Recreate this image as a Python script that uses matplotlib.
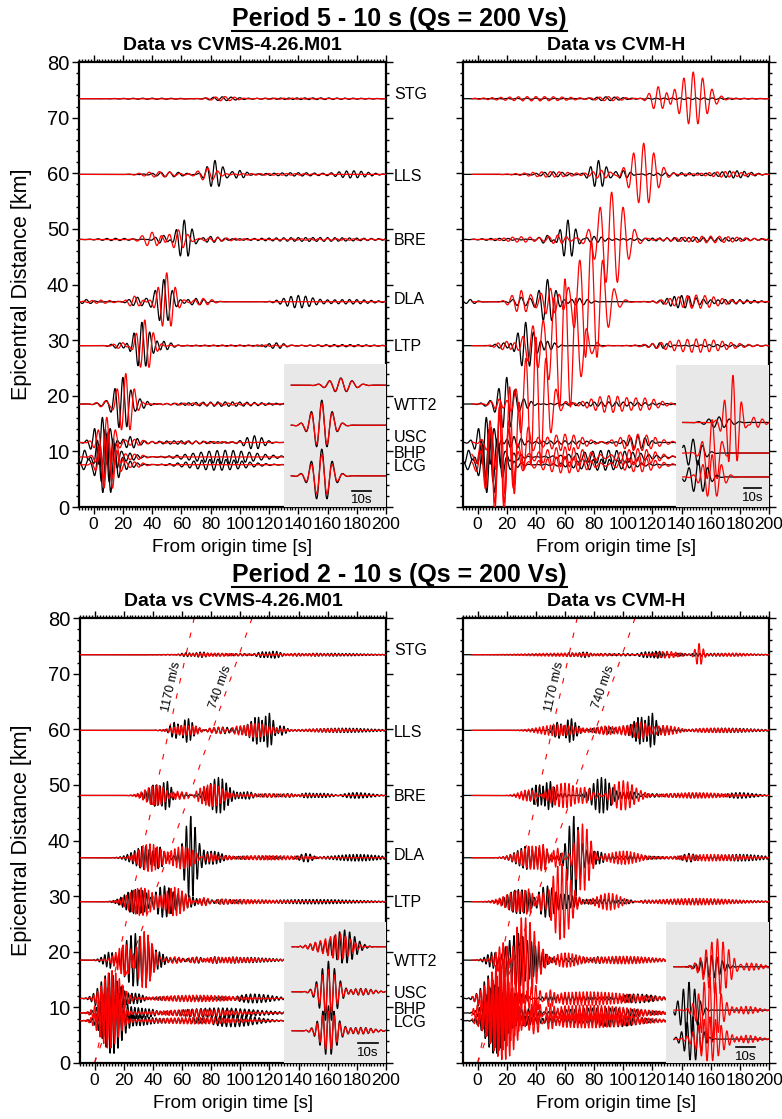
import numpy as np
import matplotlib
matplotlib.use("Agg")
import matplotlib.pyplot as plt
from matplotlib.lines import Line2D
from matplotlib.ticker import MultipleLocator

plt.rcParams['font.family'] = ['Liberation Sans', 'DejaVu Sans']

# stations, epicentral distance of each trace baseline and of its label
stations = ["STG", "LLS", "BRE", "DLA", "LTP", "WTT2", "USC", "BHP", "LCG"]
dist_km = [73.4, 59.8, 48.1, 36.9, 29.0, 18.5, 11.6, 9.0, 7.6]
label_km = [74.2, 59.5, 47.9, 37.3, 28.9, 18.2, 12.5, 9.7, 7.2]

# wave packets:
# (centre time [s], amplitude [km], period [s], envelope width [s])
obs_5_10 = {
    "STG": [(88, 0.35, 6, 9), (150, 0.15, 5.5, 30), (40, 0.1, 6.5, 20)],
    "LLS": [(52, 0.45, 6, 9), (83, 2.5, 5.5, 5), (100, 0.7, 5, 5), (140, 0.3, 5.5, 20), (178, 0.6, 5, 10)],
    "BRE": [(48, 0.8, 6, 5), (62, 3.5, 5.5, 5), (80, 0.5, 5, 6), (150, 0.35, 5, 35), (15, 0.2, 6, 12)],
    "DLA": [(-5, 0.4, 6, 4), (30, 0.8, 6, 5), (48, 4.0, 6, 5), (70, 0.6, 5.5, 6), (140, 1.1, 5, 9), (175, 0.4, 5, 15)],
    "LTP": [(18, 0.5, 6, 5), (33, 4.2, 5.5, 5), (48, 0.8, 5, 5), (125, 0.5, 5, 6), (170, 0.2, 5.5, 20)],
    "WTT2": [(8, 0.4, 6, 5), (20, 4.8, 5.5, 5), (32, 0.8, 5, 5), (90, 0.4, 5, 25)],
    "USC": [(6, 4.5, 5.5, 5), (25, 1.0, 5, 5), (110, 1.2, 5, 6), (60, 0.3, 5, 20)],
    "BHP": [(-6, 1.5, 6, 5), (8, 5.0, 5.5, 6), (25, 0.6, 5, 5), (90, 1.2, 5.5, 20)],
    "LCG": [(-4, 1.2, 6, 5), (9, 5.5, 5.5, 6), (25, 0.5, 5, 5), (85, 1.0, 5.5, 18)],
}
cvms_5_10 = {
    "STG": [(90, 0.4, 6.5, 9), (130, 0.1, 6, 25)],
    "LLS": [(45, 0.5, 7, 10), (78, 1.1, 7, 6), (120, 0.15, 6, 30)],
    "BRE": [(40, 1.3, 7, 6), (58, 1.8, 6.5, 6), (85, 0.3, 6, 15), (160, 0.15, 6, 30)],
    "DLA": [(28, 1.0, 6.5, 4), (50, 5.2, 6, 5), (75, 0.6, 6, 6), (5, 0.3, 6, 8)],
    "LTP": [(20, 0.6, 6.5, 5), (35, 4.6, 6, 5), (100, 0.15, 6, 40)],
    "WTT2": [(8, 0.6, 6.5, 5), (22, 5.5, 6, 5), (80, 0.2, 6, 30)],
    "USC": [(9, 4.5, 6, 5), (28, 0.5, 6, 6), (70, 0.2, 6, 25)],
    "BHP": [(10, 4.5, 6, 5), (28, 0.5, 6, 6)],
    "LCG": [(10, 5.0, 6, 5), (28, 0.5, 6, 6)],
}
cvmh_5_10 = {
    "STG": [(40, 0.4, 6, 25), (90, 0.4, 6, 10), (124, 2.2, 6.5, 5), (148, 4.8, 6.5, 9)],
    "LLS": [(50, 0.5, 6, 15), (85, 0.7, 6, 6), (114, 5.6, 7, 8), (170, 0.5, 5.5, 12)],
    "BRE": [(30, 0.5, 6, 10), (55, 0.8, 6, 6), (92, 8.5, 8, 9), (160, 0.6, 6, 20)],
    "DLA": [(30, 2.0, 6.5, 6), (50, 2.5, 6.5, 6), (78, 11, 8, 9), (150, 1.2, 6, 15)],
    "LTP": [(20, 0.8, 6, 6), (38, 3, 7, 6), (60, 12, 7.5, 9), (150, 1.2, 6, 20)],
    "WTT2": [(15, 1.0, 6, 5), (40, 12, 7, 8), (90, 1.5, 6, 12), (115, 1.0, 6, 10)],
    "USC": [(22, 10, 6.5, 8), (60, 1.5, 6, 12), (110, 1.5, 6, 12)],
    "BHP": [(15, 9, 6.5, 8), (60, 1.8, 6, 15), (110, 1.5, 6, 12)],
    "LCG": [(15, 9, 6.5, 8), (60, 1.5, 6, 15), (110, 1.3, 6, 12)],
}
obs_2_10 = {
    "STG": [(70, 0.4, 2.5, 8), (120, 0.6, 2.5, 5), (160, 0.25, 2.5, 25), (100, 0.2, 3.1, 30)],
    "LLS": [(62, 1.8, 2.5, 6), (58, 0.8, 3.2, 6), (115, 2.5, 2.5, 8), (120, 1.0, 3.3, 6), (170, 0.4, 2.5, 20), (88, 0.6, 3.0, 8)],
    "BRE": [(45, 2.2, 2.5, 7), (50, 0.8, 3.2, 6), (85, 3.2, 2.7, 6), (100, 0.8, 2.5, 6), (150, 0.4, 2.5, 12), (180, 0.5, 2.8, 10), (120, 0.3, 3.1, 15)],
    "DLA": [(35, 2.0, 2.5, 8), (45, 1.0, 3.1, 6), (66, 7.5, 3.0, 4), (80, 1.2, 2.5, 6), (145, 0.8, 3, 5), (180, 0.6, 2.5, 15), (110, 0.3, 2.8, 20)],
    "LTP": [(28, 2.2, 2.5, 7), (48, 2.8, 3.0, 7), (65, 1.0, 2.5, 6), (150, 0.4, 2.5, 30), (90, 0.4, 3.1, 15)],
    "WTT2": [(12, 1.5, 2.5, 5), (28, 4.8, 3.0, 7), (42, 2.0, 2.5, 5), (100, 0.5, 2.5, 20), (70, 0.4, 3.1, 15)],
    "USC": [(10, 4.5, 2.7, 6), (28, 1.0, 2.5, 6), (110, 0.8, 3, 12), (60, 0.4, 2.6, 20)],
    "BHP": [(12, 5, 2.7, 6), (30, 1.0, 2.5, 8), (85, 0.9, 3, 25)],
    "LCG": [(12, 6, 2.7, 6), (30, 1.0, 2.5, 8), (95, 1.1, 3, 15), (55, 0.4, 2.6, 15)],
}
cvms_2_10 = {
    "STG": [(80, 0.3, 2.5, 15), (140, 0.2, 2.5, 20)],
    "LLS": [(62, 0.9, 2.5, 8), (110, 1.2, 2.5, 10), (160, 0.3, 2.5, 15), (85, 0.5, 3.1, 10)],
    "BRE": [(42, 1.8, 2.5, 7), (80, 2.0, 2.5, 7), (120, 0.3, 2.5, 20), (60, 0.6, 3.1, 8)],
    "DLA": [(38, 2.5, 2.5, 7), (60, 2.0, 2.5, 7), (120, 0.4, 2.5, 25), (80, 0.6, 3.1, 8)],
    "LTP": [(32, 2.5, 2.5, 8), (55, 2.5, 2.5, 6), (100, 0.4, 2.5, 25), (75, 0.5, 3.1, 8)],
    "WTT2": [(22, 3.0, 2.5, 6), (34, 5.0, 2.7, 5), (90, 0.5, 2.5, 20), (55, 0.5, 3.1, 10)],
    "USC": [(12, 5, 2.5, 6), (70, 0.6, 2.5, 25)],
    "BHP": [(10, 5, 2.5, 6), (70, 0.6, 2.5, 25)],
    "LCG": [(10, 5, 2.5, 6), (70, 0.6, 2.5, 25)],
}
cvmh_2_10 = {
    "STG": [(60, 0.3, 2.5, 25), (130, 0.6, 3, 8), (152, 2.0, 3, 2.5), (175, 0.3, 2.5, 10)],
    "LLS": [(55, 1.0, 2.5, 12), (90, 0.8, 2.5, 8), (112, 1.5, 3, 8), (160, 0.4, 2.5, 20), (130, 0.6, 2.7, 10)],
    "BRE": [(35, 1.0, 2.5, 6), (60, 2.2, 2.7, 10), (100, 2.6, 3, 8), (150, 0.5, 2.5, 20), (80, 0.8, 3.3, 8)],
    "DLA": [(40, 2.2, 2.5, 10), (72, 6.0, 3, 5), (100, 1.2, 2.5, 10), (160, 0.6, 2.5, 20), (55, 1.0, 3.3, 8)],
    "LTP": [(30, 2.0, 2.5, 10), (58, 6.5, 3, 6), (90, 1.5, 2.7, 8), (150, 0.6, 2.5, 25), (45, 1.2, 3.3, 8)],
    "WTT2": [(20, 3.0, 2.5, 6), (33, 7.5, 3, 7), (60, 1.2, 2.5, 8), (100, 0.7, 2.5, 20)],
    "USC": [(18, 7, 2.7, 9), (75, 1.2, 2.5, 30), (40, 1.5, 3.3, 8)],
    "BHP": [(16, 7, 2.7, 9), (75, 1.4, 2.5, 30), (40, 1.5, 3.3, 8)],
    "LCG": [(18, 7, 2.7, 9), (75, 1.3, 2.5, 30), (40, 1.5, 3.3, 8)],
}

# insets: (baseline km, black packets, red packets), time in local seconds
inset_tl = [(21.9, [(30, 1.3, 6, 6)], [(30, 1.2, 6, 6)]),
            (14.7, [(20, 4.5, 5.6, 5)], [(20, 4.0, 5.6, 5)]),
            (5.6, [(20, 4.8, 5.6, 5)], [(20, 3.8, 5.6, 5)])]
inset_tr = [(15.2, [(25, 1.0, 6, 6)], [(33, 8.5, 5, 4), (45, 1.0, 5, 5)]),
            (9.7, [(10, 2.5, 5.5, 5)], [(21, 6, 6, 4)]),
            (5.4, [(13, 3, 5.5, 5)], [(21, 4, 5.5, 5)])]
inset_bl = [(20.9, [(30, 3, 2.5, 5), (18, 0.8, 2.5, 5)], [(28, 2.2, 2.5, 5), (18, 0.8, 2.5, 5)]),
            (12.8, [(22, 5.5, 3, 4), (38, 0.6, 2.5, 6)], [(22, 4, 3, 4), (38, 0.5, 2.5, 6)]),
            (5.8, [(22, 4.5, 2.8, 4), (38, 0.6, 2.5, 6)], [(22, 3.5, 2.8, 4), (38, 0.5, 2.5, 6)])]
inset_br = [(17.3, [(24, 2, 2.8, 5)], [(27, 5, 3, 6), (45, 0.6, 2.5, 6)]),
            (9.5, [(12, 5, 3, 4)], [(23, 6, 3, 5), (42, 0.7, 2.5, 6)]),
            (4.3, [(14, 4, 3, 4)], [(23, 4, 3, 6), (42, 0.7, 2.5, 6)])]

velocities_kms = [1.17, 0.74]
velocity_labels = ["1170 m/s", "740 m/s"]


def wiggle(t, packets):
    y = np.zeros_like(t)
    for t0, amp, per, w in packets:
        y += amp * np.exp(-0.5 * ((t - t0) / w) ** 2) * np.cos(2 * np.pi * (t - t0) / per)
    return y


def panel(ax, obs, syn, subtitle, inset_x0, inset_h, inset_span, inset_rows,
          bar, red_start, left, vel=False):
    ax.set_xlim(-10, 200)
    ax.set_ylim(0, 80)
    for i, st in enumerate(stations):
        d = dist_km[i]
        t_end = inset_x0 if d < inset_h else 200
        t = np.arange(-10, t_end + 0.01, 0.1)
        ax.plot(t, d + wiggle(t, obs[st]), color='black', lw=0.9, zorder=3)
        tr = t[t >= red_start]
        ax.plot(tr, d + wiggle(tr, syn[st]), color='red', lw=0.9, zorder=4)
        if left:
            ax.text(205.5, label_km[i], st, fontsize=11.5, ha='left', va='center', clip_on=False)

    if vel:
        for v, lab in zip(velocities_kms, velocity_labels):
            ax.plot([0, 80 / v], [0, 80], color='red', lw=0.8, ls=(0, (5, 9)), zorder=2)
            p0 = ax.transData.transform((0, 0))
            p1 = ax.transData.transform((80 / v, 80))
            ang = np.degrees(np.arctan2(p1[1] - p0[1], p1[0] - p0[0]))
            ax.text(67.6 / v - 5, 67.6, lab, rotation=ang, rotation_mode='anchor',
                    ha='center', va='center', fontsize=9, zorder=5)

    ins = ax.inset_axes([inset_x0, 0, 200 - inset_x0, inset_h], transform=ax.transData, zorder=6)
    ins.set_facecolor('#e8e8e8')
    for s in ins.spines.values():
        s.set_visible(False)
    ins.set_xticks([])
    ins.set_yticks([])
    ins.set_xlim(0, inset_span)
    ins.set_ylim(0, inset_h)
    tl = np.arange(4, inset_span + 0.01, 0.1)
    for y0, blk, red in inset_rows:
        ins.plot(tl, y0 + wiggle(tl, blk), color='black', lw=0.9)
        ins.plot(tl, y0 + wiggle(tl, red), color='red', lw=0.9)
    bx, by, ty = bar
    ins.plot([bx, bx + 10], [by, by], color='black', lw=1.2)
    ins.text(bx + 5, ty, "10s", ha='center', va='center', fontsize=9.5)

    ax.xaxis.set_major_locator(MultipleLocator(20))
    ax.xaxis.set_minor_locator(MultipleLocator(2))
    ax.yaxis.set_major_locator(MultipleLocator(10))
    ax.yaxis.set_minor_locator(MultipleLocator(2))
    ax.tick_params(which='both', direction='out', top=True, right=True, width=1)
    ax.tick_params(which='major', length=5)
    ax.tick_params(which='minor', length=2.5)
    ax.tick_params(axis='x', labelsize=12.5, pad=2)
    ax.tick_params(axis='y', labelsize=14.5, pad=2, labelleft=left)
    for s in ax.spines.values():
        s.set_linewidth(1.6)
    ax.set_xlabel("From origin time [s]", fontsize=13.5, labelpad=5)
    ax.text(0.5, 1 + 17 / 445, subtitle, transform=ax.transAxes, ha='center',
            va='center', fontsize=14, fontweight='bold')


W, H = 782, 1119
fig = plt.figure(figsize=(W / 100, H / 100), dpi=100)

ax_tl = fig.add_axes([79 / W, 1 - 507 / H, 307 / W, 445 / H])
ax_tr = fig.add_axes([463 / W, 1 - 507 / H, 306 / W, 445 / H])
ax_bl = fig.add_axes([80 / W, 1 - 1063 / H, 306 / W, 445 / H])
ax_br = fig.add_axes([463 / W, 1 - 1063 / H, 306 / W, 445 / H])

panel(ax_tl, obs_5_10, cvms_5_10, "Data vs CVMS-4.26.M01", 130, 25.7, 53.7, inset_tl,
      (35.8, 2.9, 1.3), -10, True)
panel(ax_tr, obs_5_10, cvmh_5_10, "Data vs CVM-H", 136, 25.5, 53.8, inset_tr,
      (39.3, 3.4, 1.7), -4, False)
panel(ax_bl, obs_2_10, cvms_2_10, "Data vs CVMS-4.26.M01", 130, 25.3, 50.5, inset_bl,
      (36.5, 3.6, 1.8), -10, True, vel=True)
panel(ax_br, obs_2_10, cvmh_2_10, "Data vs CVM-H", 129.5, 25.3, 54.2, inset_br,
      (36.8, 2.9, 1.1), -4, False, vel=True)

fig.text(22 / W, 1 - 284.5 / H, "Epicentral Distance [km]", rotation=90, fontsize=15.5,
         ha='center', va='center')
fig.text(22 / W, 1 - 840.5 / H, "Epicentral Distance [km]", rotation=90, fontsize=15.5,
         ha='center', va='center')

titles = [fig.text(399.5 / W, 1 - 19 / H, "Period 5 - 10 s (Qs = 200 Vs)", fontsize=18,
                   fontweight='bold', ha='center', va='center'),
          fig.text(399.5 / W, 1 - 575 / H, "Period 2 - 10 s (Qs = 200 Vs)", fontsize=18,
                   fontweight='bold', ha='center', va='center')]

# underline the titles
fig.canvas.draw()
inv = fig.transFigure.inverted()
for txt in titles:
    bb = txt.get_window_extent().transformed(inv)
    yline = bb.y0 + 0.1 * (bb.y1 - bb.y0) - 0.002
    fig.add_artist(Line2D([bb.x0, bb.x1], [yline, yline], color='black', lw=1.5,
                          transform=fig.transFigure))

fig.savefig("out.png", dpi=100)
